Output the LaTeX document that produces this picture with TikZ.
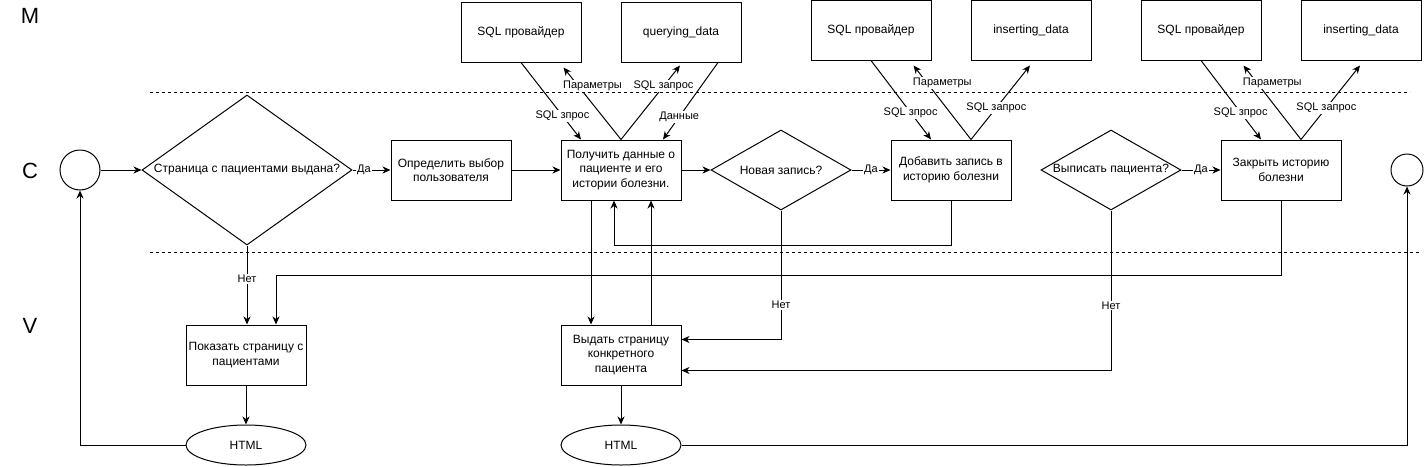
\documentclass[tikz,border=0pt]{standalone}
\usepackage{fontspec}
\setmainfont{Liberation Sans}
\usetikzlibrary{shapes.geometric,arrows.meta,calc}
\begin{document}
\begin{tikzpicture}[x=1pt,y=-1pt, line width=1pt,
 box/.style={draw, minimum width=120pt, minimum height=60pt, inner sep=0pt, align=center, font=\fontsize{12}{14.5}\selectfont},
 dia/.style={draw, diamond, inner sep=0pt, align=center, font=\fontsize{12}{14.5}\selectfont},
 oval/.style={draw, ellipse, minimum width=120pt, minimum height=40pt, inner sep=0pt, font=\fontsize{12}{14.5}\selectfont},
 circ/.style={draw, circle, inner sep=0pt},
 lane/.style={font=\fontsize{22}{26}\selectfont, inner sep=0pt},
 lbl/.style={fill=white, inner sep=1pt, font=\fontsize{11}{13}\selectfont},
 arr/.style={-{Stealth[length=8pt,width=7pt,inset=2.5pt]}},
 sep/.style={dash pattern=on 3pt off 3pt, line width=0.8pt}
]
\useasboundingbox (0,0) rectangle (1424,466);
% lanes
\node[lane] (laneM) at (30,16) {M};
\node[lane] (laneC) at (30,171) {C};
\node[lane] (laneV) at (30,326) {V};
\draw[sep] (150,92) -- (1410,92);
\draw[sep] (150,252) -- (1420,252);
% controller row
\node[circ, minimum size=40pt] (start) at (80,170) {};
\node[circ, minimum size=32pt] (end) at (1407,170) {};
\node[dia, aspect=1.4, minimum width=210pt, minimum height=150pt] (d1) at (247,170) {Страница с пациентами выдана?};
\node[box] (box1) at (451,170) {Определить выбор\\пользователя};
\node[box] (get) at (621,170) {Получить данные о\\пациенте и его\\истории болезни.};
\node[dia, aspect=1.75, minimum width=140pt, minimum height=80pt] (d2) at (781,170) {Новая запись?};
\node[box] (add) at (951,170) {Добавить запись в\\историю болезни};
\node[dia, aspect=1.75, minimum width=140pt, minimum height=80pt] (d3) at (1111,170) {Выписать пациента?};
\node[box] (close) at (1281,170) {Закрыть историю\\болезни};
% model row
\node[box] (sql1) at (521,32) {SQL провайдер};
\node[box] (qd) at (681,32) {querying\_data};
\node[box] (sql2) at (871,30) {SQL провайдер};
\node[box] (ins1) at (1031,30) {inserting\_data};
\node[box] (sql3) at (1201,30) {SQL провайдер};
\node[box] (ins2) at (1361,30) {inserting\_data};
% view row
\node[box] (show) at (246,355) {Показать страницу с\\пациентами};
\node[box] (new) at (621,355) {Выдать страницу\\конкретного\\пациента};
\node[oval] (html1) at (246,445) {HTML};
\node[oval] (html2) at (621,445) {HTML};
% main flow
\draw[arr] (start.east) -- (d1.west);
\draw[arr] (d1.east) -- node[lbl,pos=.3]{Да} (box1.west);
\draw[arr] (box1.east) -- (get.west);
\draw[arr] (get.east) -- (d2.west);
\draw[arr] (d2.east) -- node[lbl,pos=.5]{Да} (add.west);
\draw[arr] (d3.east) -- node[lbl,pos=.5]{Да} (close.west);
% model links group 1
\draw[arr] (sql1.south) -- node[lbl,pos=.69]{SQL зпрос} ($(get.north)+(-40,0)$);
\draw[arr] (get.north) -- node[lbl,pos=.74,xshift=14pt]{Параметры} ($(sql1.south east)+(-18,5)$);
\draw[arr] (get.north) -- node[lbl,pos=.72]{SQL запрос} ($(qd.south)+(-1,3)$);
\draw[arr] ($(qd.south)+(37,0)$) -- node[lbl,pos=.705]{Данные} ($(get.north)+(42,0)$);
% group 2
\draw[arr] (sql2.south) -- node[lbl,pos=.66]{SQL зпрос} ($(add.north)+(-20,0)$);
\draw[arr] ($(add.north)+(20,0)$) -- node[lbl,pos=.76,xshift=15pt]{Параметры} ($(sql2.south east)+(-18,5)$);
\draw[arr] ($(add.north)+(20,0)$) -- node[lbl,pos=.43]{SQL запрос} ($(ins1.south)+(-1,5)$);
% group 3
\draw[arr] (sql3.south) -- node[lbl,pos=.66]{SQL зпрос} ($(close.north)+(-20,0)$);
\draw[arr] ($(close.north)+(20,0)$) -- node[lbl,pos=.76,xshift=15pt]{Параметры} ($(sql3.south east)+(-18,5)$);
\draw[arr] ($(close.north)+(20,0)$) -- node[lbl,pos=.43]{SQL запрос} ($(ins2.south)+(-1,5)$);
% lower links
\draw[arr] (d1.south) -- node[lbl,pos=.425]{Нет} (d1.south |- show.north);
\draw[arr] (close.south) -- ++(0,75) -| ($(show.north)+(30,0)$);
\draw[arr] (add.south) -- ++(0,45) -| ($(get.south)+(-7,0)$);
\draw[arr] ($(get.south)+(-30,0)$) -- ($(new.north)+(-30,0)$);
\draw[arr] ($(new.north)+(30,0)$) -- ($(get.south)+(30,0)$);
\draw[arr] (d2.south) |- node[lbl,pos=.365]{Нет} ($(new.north east)+(0,15)$);
\draw[arr] (d3.south) |- node[lbl,pos=.297]{Нет} ($(new.south east)+(0,-15)$);
\draw[arr] (show.south) -- (html1.north);
\draw[arr] (new.south) -- (html2.north);
\draw[arr] (html1.west) -| (start.south);
\draw[arr] (html2.east) -| (end.south);
\end{tikzpicture}
\end{document}
